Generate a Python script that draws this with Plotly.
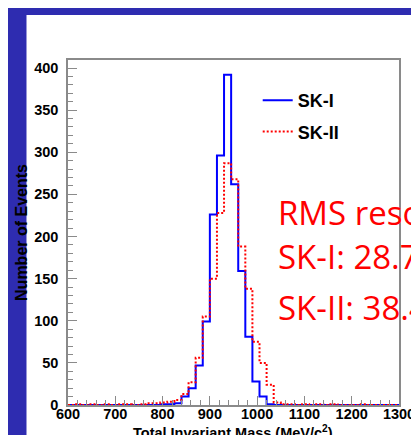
import plotly.graph_objects as go

# ---- data ----
bin_start = 600      # MeV/c^2, left edge of first bin
bin_width = 15       # MeV/c^2
# counts per 15 MeV bin from 600 to 1305
sk1_counts = [0, 0, 0, 0, 0, 0, 0, 0, 0, 0, 0, 0, 0, 1, 1, 2,
              10, 20, 47, 99, 226, 296, 392, 262, 159, 81, 28, 10, 1, 0,
              0, 0, 0, 0, 0, 0, 0, 0, 0, 0, 0, 0, 0, 0, 0, 0, 0]
sk2_counts = [0, 1, 0, 1, 0, 1, 0, 1, 1, 0, 1, 2, 2, 3, 4, 6,
              13, 27, 56, 105, 150, 228, 287, 268, 188, 138, 75, 50, 24, 3,
              1, 1, 0, 1, 0, 1, 0, 1, 0, 0, 0, 1, 0, 0, 0, 0, 0]
series_names = ["SK-I", "SK-II"]
rms_lines = ["RMS resolution", "SK-I: 28.7 MeV", "SK-II: 38.4 MeV"]

edges = [bin_start + bin_width * k for k in range(len(sk1_counts) + 1)]

W, H = 419, 435
L, R, T, B = 57, 27, 52, 38
pw, ph = W - L - R, H - T - B


def px2x(px):
    return (px - L) / pw


def py2y(py):
    return (H - B - py) / ph


fig = go.Figure()
fig.add_trace(go.Scatter(
    x=edges, y=sk1_counts + [sk1_counts[-1]], mode="lines", line_shape="hv",
    line=dict(color="#0000ff", width=2), name=series_names[0],
    legendgroup="a"))
fig.add_trace(go.Scatter(
    x=edges, y=sk2_counts + [sk2_counts[-1]], mode="lines", line_shape="hv",
    line=dict(color="#ff0000", width=2, dash="2px,2px"), name=series_names[1],
    legendgroup="b"))

axcol = "#8a8a8a"
tickfont = dict(family="Liberation Sans", size=14.5, color="black", weight="bold")
fig.update_xaxes(range=[600, 1300], tick0=600, dtick=100, ticks="inside",
                 ticklen=9, tickwidth=1, tickcolor=axcol, showline=True,
                 linecolor=axcol, linewidth=1.5, mirror=True, showgrid=False,
                 zeroline=False, tickfont=tickfont, ticklabelstandoff=-5,
                 minor=dict(dtick=20, tick0=600, ticks="inside", ticklen=5,
                            tickcolor=axcol, showgrid=False))
fig.update_yaxes(range=[0, 409.5], tick0=0, dtick=50, ticks="inside",
                 ticklen=9, tickwidth=1, tickcolor=axcol, showline=True,
                 linecolor=axcol, linewidth=1.5, mirror=True, showgrid=False,
                 zeroline=False, tickfont=tickfont, ticklabelstandoff=5,
                 title=dict(text="<b>Number of Events</b>", standoff=3,
                            font=dict(family="Liberation Sans", size=16,
                                      color="black")),
                 minor=dict(dtick=10, tick0=0, ticks="inside", ticklen=5,
                            tickcolor=axcol, showgrid=False))

annots = [
    dict(text="<b>Total Invariant Mass (MeV/c<sup>2</sup>)</b>", x=px2x(224),
         y=py2y(413), xref="paper", yref="paper", showarrow=False,
         xanchor="center", yanchor="top",
         font=dict(family="Liberation Sans", size=14.5, color="black")),
]
for txt, cy in zip(rms_lines, [204, 248, 299]):
    annots.append(dict(text=txt, x=px2x(268), y=py2y(cy), xref="paper",
                       yref="paper", xanchor="left", yanchor="middle",
                       showarrow=False,
                       font=dict(family="Open Sans", size=33, color="#ff0000")))

fig.update_layout(
    width=W, height=H, margin=dict(l=L, r=R, t=T, b=B),
    paper_bgcolor="#2e2cb0", plot_bgcolor="white",
    shapes=[dict(type="rect", xref="paper", yref="paper", layer="below",
                 x0=px2x(15), x1=px2x(425), y0=py2y(440), y1=py2y(7),
                 fillcolor="white", line=dict(width=0))],
    annotations=annots,
    showlegend=True,
    legend=dict(x=px2x(249), y=py2y(74), xanchor="left", yanchor="top",
                bgcolor="rgba(0,0,0,0)", traceorder="grouped",
                tracegroupgap=5,
                font=dict(family="Liberation Sans", size=18, color="black",
                          weight="bold")),
)

fig.write_html("out.html")
